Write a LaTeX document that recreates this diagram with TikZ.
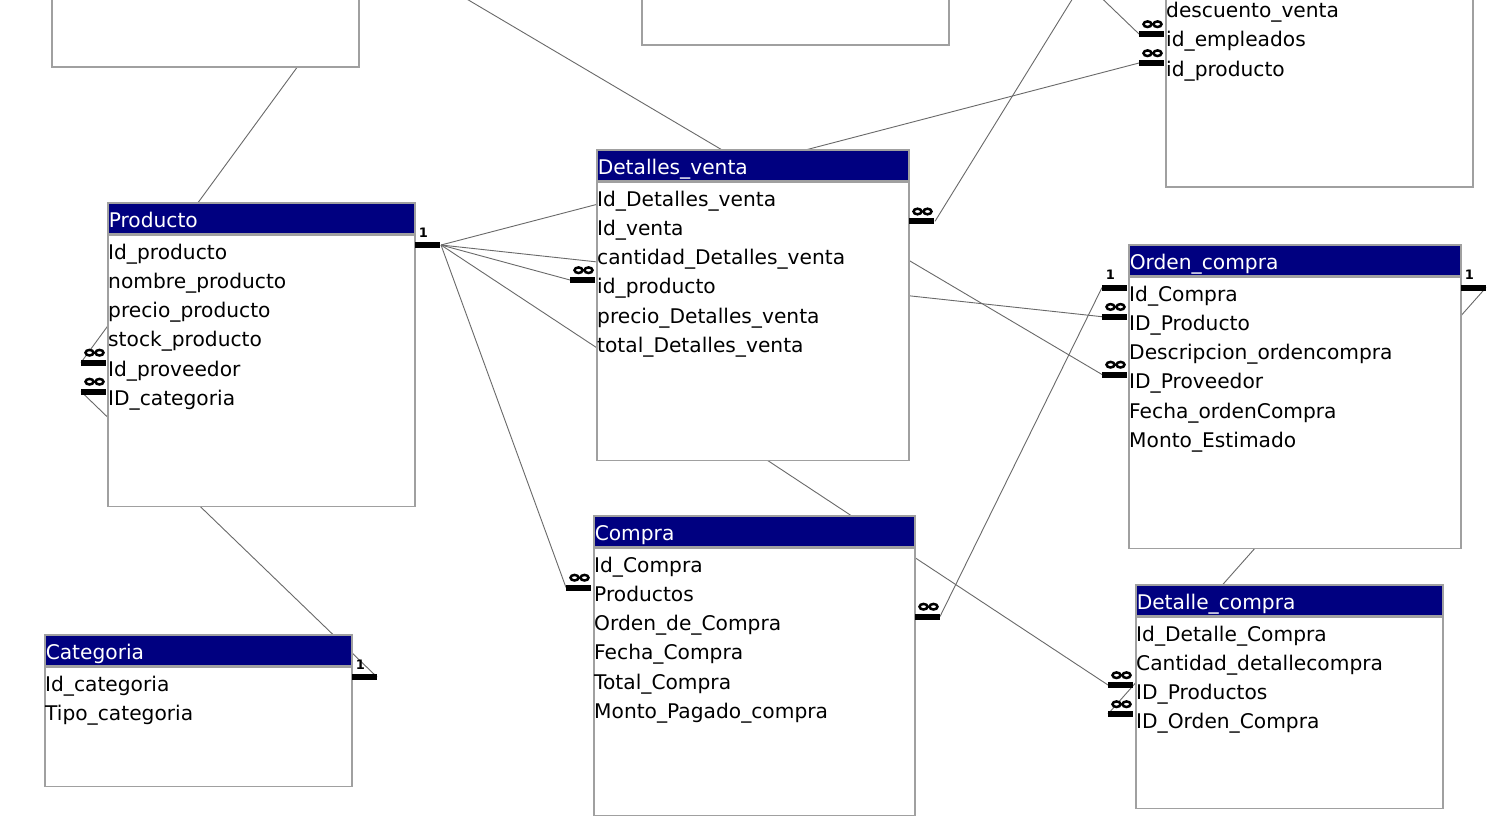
\documentclass[tikz,border=0pt]{standalone}
\usepackage{fontspec}
\setmainfont{DejaVu Sans}

\definecolor{titlenavy}{RGB}{0,0,128}
\definecolor{framegray}{RGB}{160,160,160}
\definecolor{linkgray}{RGB}{105,105,105}

\newcommand{\rowfont}{\fontsize{20.2}{29.3}\selectfont}
\newcommand{\markfont}{\fontsize{13}{13}\selectfont\bfseries}

\tikzset{
  onemark/.pic={
    \fill (0,-3) rectangle (25,3);
    \node[font=\markfont, inner sep=0pt] at (8.5,-12.5) {1};
  },
  manymark/.pic={
    \fill (0,-3) rectangle (25,3);
    \draw[line width=2.5pt, fill=white] (8.5,-9.8) ellipse [x radius=4pt, y radius=2.8pt]
      (18.5,-9.8) ellipse [x radius=4pt, y radius=2.8pt];
  }
}

\begin{document}
\begin{tikzpicture}[
  x=1pt, y=-1pt,
  tabtitle/.style={anchor=north west, fill=titlenavy, draw=framegray, line width=1.5pt,
    text=white, font=\rowfont, inner xsep=1pt, inner ysep=5.75pt,
    text height=19.2pt, text depth=0.3pt, text width=#1, align=left},
  tabbody/.style={anchor=north west, fill=white, draw=framegray, line width=1.5pt, inner sep=0pt},
  rowtext/.style={anchor=north west, font=\rowfont, inner sep=0pt, align=left},
  link/.style={draw=linkgray, line width=0.9pt}
]
\useasboundingbox[fill=white] (0,0) rectangle (1509,825);
\clip (0,0) rectangle (1509,825);

% ends of the relationship lines
\coordinate (provKey) at (331,21);
\coordinate (prodProv) at (81,362.5);
\coordinate (prodCat) at (81,391.5);
\coordinate (catOne) at (377,677);
\coordinate (provTop) at (443,-15);
\coordinate (ordProv) at (1102,374.5);
\coordinate (prodOne) at (441,245);
\coordinate (ventaProd) at (1139,63);
\coordinate (detvProd) at (570,280);
\coordinate (ordProd) at (1102,316.7);
\coordinate (detcProd) at (1108,685);
\coordinate (compProd) at (566,587.5);
\coordinate (detvMany) at (935,221.3);
\coordinate (detvTop) at (1081,-15);
\coordinate (ventaEmp) at (1139,34);
\coordinate (empTop) at (1088,-15);
\coordinate (ordOne) at (1102,287.5);
\coordinate (compMany) at (940,616.5);
\coordinate (ordOneR) at (1486,287.5);
\coordinate (detcOrd) at (1108,714);

\draw[link] (prodProv) -- (provKey);
\draw[link] (prodCat) -- (catOne);
\draw[link] (provTop) -- (ordProv);
\draw[link] (prodOne) -- (ventaProd);
\draw[link] (prodOne) -- (detvProd);
\draw[link] (prodOne) -- (ordProd);
\draw[link] (prodOne) -- (detcProd);
\draw[link] (prodOne) -- (compProd);
\draw[link] (detvMany) -- (detvTop);
\draw[link] (ventaEmp) -- (empTop);
\draw[link] (ordOne) -- (compMany);
\draw[link] (ordOneR) -- (detcOrd);

% tables cut off at the top
\node[tabbody, minimum width=307pt, minimum height=106pt] (provBody) at (51,-40) {};
\node[tabbody, minimum width=307pt, minimum height=84pt] (midBody) at (641,-40) {};
\node[tabbody, minimum width=307pt, minimum height=226pt] (ventaBody) at (1165,-40) {};
\node[rowtext] (ventaRows) at (1166,-2.7) {\rule{0pt}{20pt}descuento\_venta\\id\_empleados\\id\_producto};

% Producto
\node[tabtitle=305pt] (prodTitle) at (107,202) {Producto};
\node[tabbody, minimum width=307pt, minimum height=271pt] (prodBody) at (prodTitle.south west) {};
\node[rowtext] (prodRows) at ([shift={(1,4.3)}]prodTitle.south west)
  {\rule{0pt}{20pt}Id\_producto\\nombre\_producto\\precio\_producto\\stock\_producto\\Id\_proveedor\\ID\_categoria};

% Detalles_venta
\node[tabtitle=310pt] (detvTitle) at (596,149) {Detalles\_venta};
\node[tabbody, minimum width=312pt, minimum height=278pt] (detvBody) at (detvTitle.south west) {};
\node[rowtext] (detvRows) at ([shift={(1,4.3)}]detvTitle.south west)
  {\rule{0pt}{20pt}Id\_Detalles\_venta\\Id\_venta\\cantidad\_Detalles\_venta\\id\_producto\\precio\_Detalles\_venta\\total\_Detalles\_venta};

% Orden_compra
\node[tabtitle=330pt] (ordTitle) at (1128,244) {Orden\_compra};
\node[tabbody, minimum width=332pt, minimum height=271pt] (ordBody) at (ordTitle.south west) {};
\node[rowtext] (ordRows) at ([shift={(1,4.3)}]ordTitle.south west)
  {\rule{0pt}{20pt}Id\_Compra\\ID\_Producto\\Descripcion\_ordencompra\\ID\_Proveedor\\Fecha\_ordenCompra\\Monto\_Estimado};

% Compra
\node[tabtitle=319pt] (compTitle) at (593,515) {Compra};
\node[tabbody, minimum width=321pt, minimum height=267pt] (compBody) at (compTitle.south west) {};
\node[rowtext] (compRows) at ([shift={(1,4.3)}]compTitle.south west)
  {\rule{0pt}{20pt}Id\_Compra\\Productos\\Orden\_de\_Compra\\Fecha\_Compra\\Total\_Compra\\Monto\_Pagado\_compra};

% Categoria
\node[tabtitle=305pt] (catTitle) at (44,634) {Categoria};
\node[tabbody, minimum width=307pt, minimum height=119pt] (catBody) at (catTitle.south west) {};
\node[rowtext] (catRows) at ([shift={(1,4.3)}]catTitle.south west)
  {\rule{0pt}{20pt}Id\_categoria\\Tipo\_categoria};

% Detalle_compra
\node[tabtitle=305pt] (detcTitle) at (1135,584) {Detalle\_compra};
\node[tabbody, minimum width=307pt, minimum height=191pt] (detcBody) at (detcTitle.south west) {};
\node[rowtext] (detcRows) at ([shift={(1,4.3)}]detcTitle.south west)
  {\rule{0pt}{20pt}Id\_Detalle\_Compra\\Cantidad\_detallecompra\\ID\_Productos\\ID\_Orden\_Compra};

% end marks
\pic at (prodProv) {manymark};
\pic at (prodCat) {manymark};
\pic at ([xshift=-26pt]prodOne) {onemark};
\pic at ([xshift=-25pt]catOne) {onemark};
\pic at (detvProd) {manymark};
\pic at ([xshift=-26pt]detvMany) {manymark};
\pic at (ventaEmp) {manymark};
\pic at (ventaProd) {manymark};
\pic at (ordOne) {onemark};
\pic at (ordProd) {manymark};
\pic at (ordProv) {manymark};
\pic at ([xshift=-25pt]ordOneR) {onemark};
\pic at (compProd) {manymark};
\pic at ([xshift=-25pt]compMany) {manymark};
\pic at (detcProd) {manymark};
\pic at (detcOrd) {manymark};
\end{tikzpicture}
\end{document}
